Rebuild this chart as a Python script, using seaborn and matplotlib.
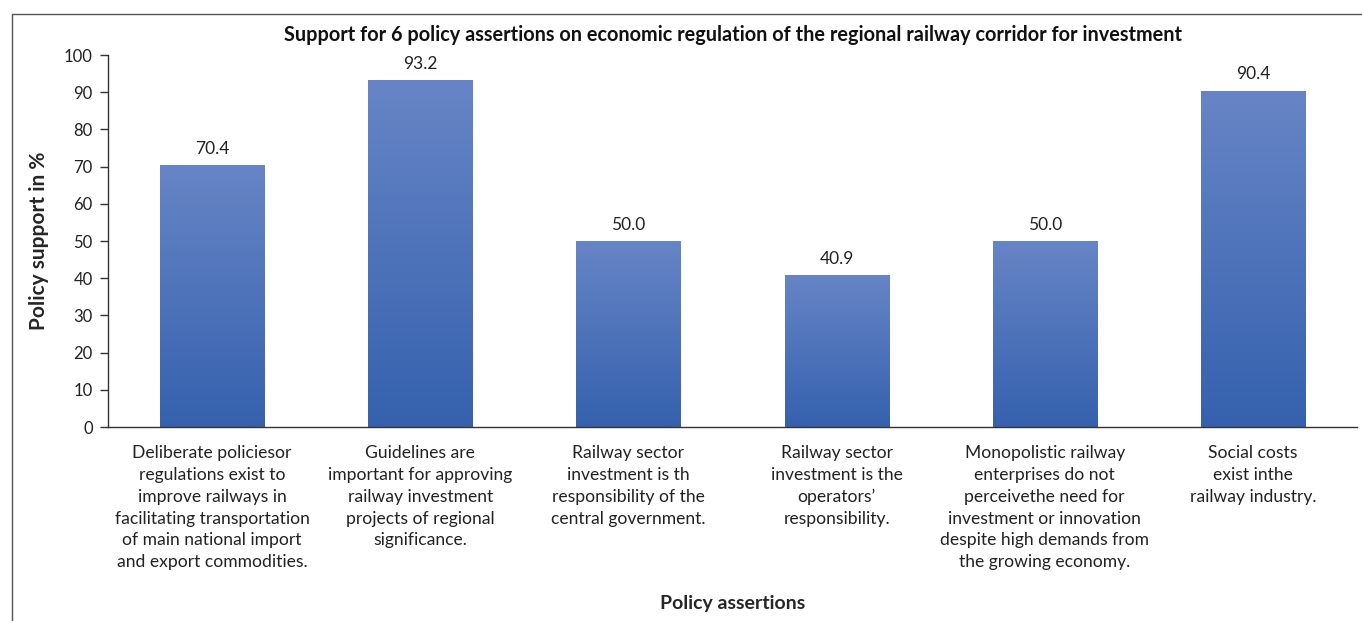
import numpy as np
import pandas as pd
import matplotlib
matplotlib.use("Agg")
import matplotlib.pyplot as plt
import seaborn as sns
from matplotlib.colors import LinearSegmentedColormap
from matplotlib.lines import Line2D

categories = [
    "Deliberate policiesor\nregulations exist to\nimprove railways in\nfacilitating transportation\nof main national import\nand export commodities.",
    "Guidelines are\nimportant for approving\nrailway investment\nprojects of regional\nsignificance.",
    "Railway sector\ninvestment is th\nresponsibility of the\ncentral government.",
    "Railway sector\ninvestment is the\noperators’\nresponsibility.",
    "Monopolistic railway\nenterprises do not\nperceivethe need for\ninvestment or innovation\ndespite high demands from\nthe growing economy.",
    "Social costs\nexist inthe\nrailway industry.",
]
support = [70.4, 93.2, 50.0, 40.9, 50.0, 90.4]
yticks = [0, 10, 20, 30, 40, 50, 60, 70, 80, 90, 100]

sns.set_theme(style="white")
plt.rcParams['font.family'] = ['Lato', 'DejaVu Sans']

fig = plt.figure(figsize=(13.62, 6.21), dpi=100)
ax = fig.add_axes([108/1362, 1-427/621, (1357-108)/1362, (427-55)/621])

df = pd.DataFrame({"cat": categories, "val": support})
sns.barplot(data=df, x="cat", y="val", ax=ax, color="#4a6fb8", width=0.5,
            saturation=1, edgecolor="none")

# gradient fill
cmap = LinearSegmentedColormap.from_list("g", ["#3561ae", "#6785c6"])
grad = np.linspace(0, 1, 256).reshape(-1, 1)
for p in ax.patches:
    x0, y0 = p.get_x(), p.get_y()
    w, h = p.get_width(), p.get_height()
    im = ax.imshow(grad, cmap=cmap, origin="lower", aspect="auto",
                   extent=[x0, x0 + w, y0, y0 + h], zorder=p.get_zorder())
    im.set_clip_path(p)
    p.set_facecolor("none")

for c in ax.containers:
    ax.bar_label(c, labels=[f"{v:.1f}" for v in support], padding=6,
                 fontsize=12.5, color="#222222")

ax.set_aspect("auto")
ax.set_xlim(-0.5, len(categories) - 0.5)
ax.set_ylim(0, 100)
ax.set_yticks(yticks)
ax.set_yticklabels([str(v) for v in yticks], fontsize=12, color="#222222")

# x ticks at boundaries
ax.set_xticks(np.arange(len(categories)))
ax.set_xticklabels(categories, fontsize=12.6, color="#222222", linespacing=1.45,
                   va="top")
ax.tick_params(axis="x", which="major", length=0, pad=13)
ax.set_xticks(np.arange(-0.5, len(categories)), minor=True)
ax.tick_params(axis="x", which="minor", length=6, direction="out", color="#333333", width=1)
ax.tick_params(axis="y", length=6, direction="out", color="#333333", width=1, left=True, pad=5)

for s in ["top", "right"]:
    ax.spines[s].set_visible(False)
for s in ["left", "bottom"]:
    ax.spines[s].set_color("#333333")
    ax.spines[s].set_linewidth(1)

ax.set_xlabel("Policy assertions", fontsize=14, fontweight="bold", va="center")
ax.xaxis.set_label_coords(0.5, -(603-427)/372)
ax.set_ylabel("Policy support in %", fontsize=15, fontweight="bold", va="center")
ax.yaxis.set_label_coords(-(108-39)/1249, 0.5)

fig.text(733/1362, 1-35/621, "Support for 6 policy assertions on economic regulation of the regional railway corridor for investment",
         ha="center", va="center", fontsize=14.3, fontweight="bold", color="#111111")

# outer frame
fig.add_artist(Line2D([12/1362, 12/1362], [0, 1-14/621], transform=fig.transFigure, color="#555555", lw=1))
fig.add_artist(Line2D([12/1362, 1], [1-14/621, 1-14/621], transform=fig.transFigure, color="#555555", lw=1))

fig.savefig("out.png", dpi=100)
